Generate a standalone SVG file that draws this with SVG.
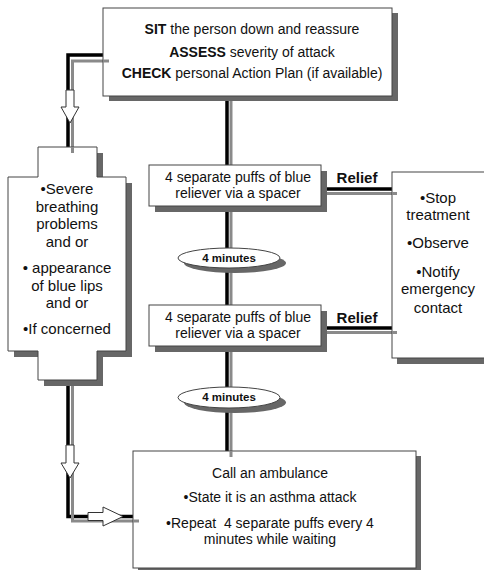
<svg xmlns="http://www.w3.org/2000/svg" width="484" height="570" viewBox="0 0 484 570">
<style>
.box{fill:#fff;stroke:#444;stroke-width:1}
.sh{fill:#676767}
.blk{fill:none;stroke:#000;stroke-width:3.5}
.gry{fill:none;stroke:#8a8a8a;stroke-width:3}
.arr{fill:#fff;stroke:#333;stroke-width:1}
text{font-family:"Liberation Sans",Arial,sans-serif;fill:#111;text-anchor:middle}
.t14{font-size:14px}
.t15{font-size:15px}
.b{font-weight:bold}
.min{font-size:11.5px;font-weight:bold}
</style>
<rect width="484" height="570" fill="#fff"/>

<g id="connectors">
  <polyline class="blk" points="103,55 68,55 68,147"/>
  <polyline class="gry" points="109,61 72.5,61 72.5,153"/>
  <polygon class="arr" points="66,90 74,90 74,107 79,107 70,123 61,107 66,107"/>
  <polyline class="blk" points="68,380 68,516.5 133,516.5"/>
  <polyline class="gry" points="72.5,386 72.5,521 139,521"/>
  <polygon class="arr" points="66,445 74,445 74,463 79,463 70,478 61,463 66,463"/>
  <polygon class="arr" points="88,512.5 103,512.5 103,507 123,516.5 103,526 103,520.5 88,520.5"/>
  <line class="blk" x1="227" y1="96" x2="227" y2="165"/>
  <line class="gry" x1="231" y1="101" x2="231" y2="165"/>
  <line class="blk" x1="227" y1="206" x2="227" y2="248"/>
  <line class="gry" x1="231" y1="206" x2="231" y2="248"/>
  <line class="blk" x1="227" y1="268" x2="227" y2="305"/>
  <line class="gry" x1="231" y1="268" x2="231" y2="305"/>
  <line class="blk" x1="227" y1="346" x2="227" y2="387"/>
  <line class="gry" x1="231" y1="346" x2="231" y2="387"/>
  <line class="blk" x1="227" y1="408" x2="227" y2="451"/>
  <line class="gry" x1="231" y1="408" x2="231" y2="457"/>
  <line class="blk" x1="321" y1="189" x2="392" y2="189"/>
  <line class="gry" x1="327" y1="193.5" x2="397" y2="193.5"/>
  <line class="blk" x1="321" y1="328" x2="392" y2="328"/>
  <line class="gry" x1="327" y1="332.5" x2="397" y2="332.5"/>
  <text class="t15 b" x="357" y="183">Relief</text>
  <text class="t15 b" x="357" y="323">Relief</text>
</g>

<g id="node-top">
  <rect class="sh" x="109" y="13" width="289" height="88"/>
  <rect class="box" x="103" y="8" width="289" height="88"/>
  <text class="t14" x="252" y="34"><tspan class="b">SIT</tspan> the person down and reassure</text>
  <text class="t14" x="252" y="57"><tspan class="b">ASSESS</tspan> severity of attack</text>
  <text class="t14" x="252" y="78"><tspan class="b">CHECK</tspan> personal Action Plan (if available)</text>
</g>

<g id="node-severe">
  <path class="sh" d="M44,153 H103 V183 H132 V357 H103 V386 H44 V357 H14 V183 H44 Z"/>
  <path class="box" d="M38,147 H97 V177 H126 V351 H97 V380 H38 V351 H8 V177 H38 Z"/>
  <text class="t15" x="67" y="194">•Severe</text>
  <text class="t15" x="67" y="212">breathing</text>
  <text class="t15" x="67" y="229">problems</text>
  <text class="t15" x="67" y="247">and or</text>
  <text class="t15" x="67" y="273">• appearance</text>
  <text class="t15" x="67" y="291">of blue lips</text>
  <text class="t15" x="67" y="308">and or</text>
  <text class="t15" x="67" y="334">•If concerned</text>
</g>

<g id="node-puffs1">
  <rect class="sh" x="155" y="171" width="172" height="41"/>
  <rect class="box" x="149" y="165" width="172" height="41"/>
  <text class="t14" x="238" y="182">4 separate puffs of blue</text>
  <text class="t14" x="238" y="198">reliever via a spacer</text>
</g>

<g id="node-wait1">
  <ellipse class="sh" cx="235" cy="263" rx="51" ry="10"/>
  <ellipse class="box" cx="229" cy="258" rx="51" ry="10"/>
  <text class="min" x="229" y="262">4 minutes</text>
</g>

<g id="node-puffs2">
  <rect class="sh" x="155" y="311" width="172" height="41"/>
  <rect class="box" x="149" y="305" width="172" height="41"/>
  <text class="t14" x="238" y="322">4 separate puffs of blue</text>
  <text class="t14" x="238" y="338">reliever via a spacer</text>
</g>

<g id="node-wait2">
  <ellipse class="sh" cx="235" cy="402.5" rx="51" ry="10.5"/>
  <ellipse class="box" cx="229" cy="397.5" rx="51" ry="10.5"/>
  <text class="min" x="229" y="401">4 minutes</text>
</g>

<g id="node-relief">
  <rect class="sh" x="397" y="178" width="100" height="186"/>
  <rect class="box" x="392" y="172" width="100" height="186"/>
  <text class="t15" x="438" y="202.5">•Stop</text>
  <text class="t15" x="438" y="219.5">treatment</text>
  <text class="t15" x="438" y="247.5">•Observe</text>
  <text class="t15" x="438" y="276.5">•Notify</text>
  <text class="t15" x="438" y="293.5">emergency</text>
  <text class="t15" x="438" y="312.5">contact</text>
</g>

<g id="node-ambulance">
  <rect class="sh" x="138" y="456" width="283" height="117"/>
  <rect class="box" x="133" y="451" width="283" height="117"/>
  <text class="t14" x="270" y="478">Call an ambulance</text>
  <text class="t14" x="270" y="502">•State it is an asthma attack</text>
  <text class="t14" x="270" y="528">•Repeat&#160; 4 separate puffs every 4</text>
  <text class="t14" x="270" y="544">minutes while waiting</text>
</g>

<g id="connector-overlays">
  <line class="gry" x1="231" y1="451" x2="231" y2="457"/>
  <line class="gry" x1="133" y1="521" x2="139" y2="521"/>
  <line class="gry" x1="392" y1="193.5" x2="397" y2="193.5"/>
  <line class="gry" x1="392" y1="332.5" x2="397" y2="332.5"/>
  <line class="gry" x1="103" y1="61" x2="109" y2="61"/>
  <line class="gry" x1="72.5" y1="147" x2="72.5" y2="153"/>
</g>
</svg>
